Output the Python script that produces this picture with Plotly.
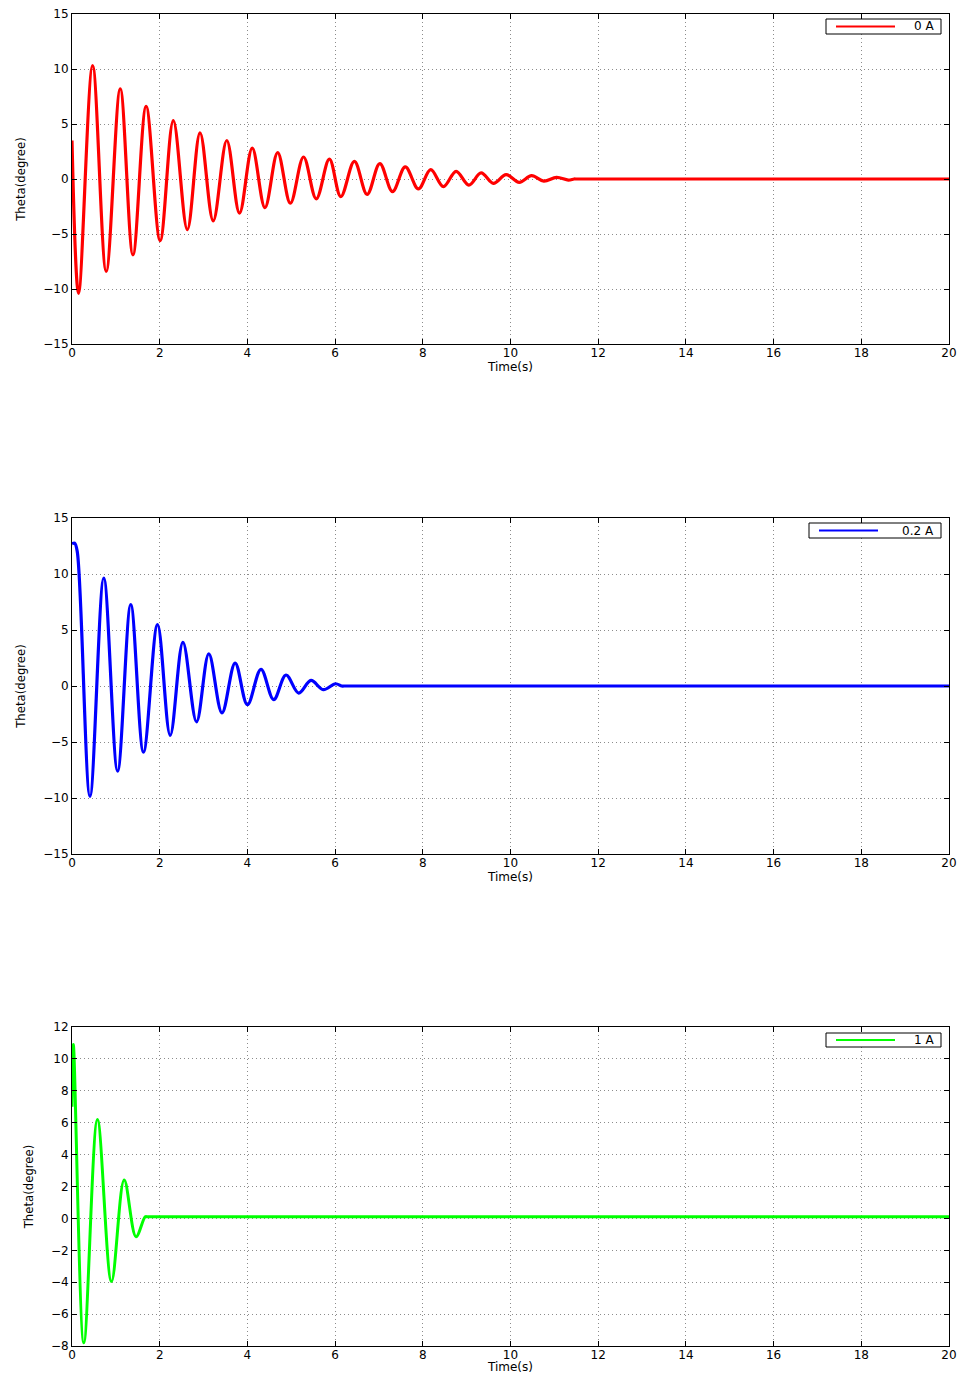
import plotly.graph_objects as go

# ---------------- data ----------------
t_0A = [0, 0.15, 0.47, 0.78, 1.10, 1.39, 1.69, 2.01, 2.31, 2.63, 2.92, 3.22, 3.53,
        3.82, 4.11, 4.40, 4.69, 4.98, 5.28, 5.57, 5.87, 6.13, 6.44, 6.73, 7.02,
        7.31, 7.60, 7.90, 8.18, 8.47, 8.76, 9.05, 9.33, 9.61, 9.90, 10.20, 10.48,
        10.76, 11.05, 11.32, 11.45, 11.5, 11.6, 20]
theta_0A = [3.5, -10.4, 10.3, -8.4, 8.2, -6.9, 6.6, -5.6, 5.3, -4.6, 4.2, -3.8, 3.5,
            -3.1, 2.8, -2.6, 2.4, -2.2, 2.0, -1.8, 1.8, -1.6, 1.6, -1.4, 1.4,
            -1.15, 1.1, -0.9, 0.85, -0.7, 0.7, -0.55, 0.55, -0.4, 0.4, -0.3, 0.3,
            -0.2, 0.15, -0.1, 0, 0, 0, 0]

t_02A = [0, 0.06, 0.12, 0.41, 0.725, 1.04, 1.34, 1.63, 1.95, 2.24, 2.53, 2.84, 3.12,
         3.42, 3.72, 4.00, 4.31, 4.60, 4.88, 5.17, 5.45, 5.73, 6.01, 6.15, 6.2, 6.3, 20]
theta_02A = [12.7, 12.75, 12.0, -9.85, 9.64, -7.6, 7.26, -5.9, 5.48, -4.4, 3.9, -3.2,
             2.86, -2.4, 2.05, -1.67, 1.49, -1.22, 0.98, -0.63, 0.5, -0.33, 0.2, 0,
             0, 0, 0]

t_1A = [0, 0.03, 0.27, 0.58, 0.90, 1.19, 1.46, 1.67, 1.72, 1.8, 20]
theta_1A = [7.0, 10.9, -7.8, 6.2, -3.96, 2.4, -1.15, 0.1, 0.1, 0.1, 0.1]

x_ticks = [0, 2, 4, 6, 8, 10, 12, 14, 16, 18, 20]
y_ticks_a = [-15, -10, -5, 0, 5, 10, 15]
y_ticks_c = [-8, -6, -4, -2, 0, 2, 4, 6, 8, 10, 12]

names = ["0 A", "0.2 A", "1 A"]
colors = ["#ff0000", "#0000ff", "#00ff00"]
widths = [3.2, 3.2, 3]

# ---------------- figure ----------------
W, H = 961, 1374
ML, MR, MT, MB = 72, 12, 14, 28
pw = W - ML - MR
ph = H - MT - MB

def px(pix):
    return (pix - ML) / pw

def py(pix):
    return 1 - (pix - MT) / ph

domains = [(py(344), py(14)), (py(854), py(518)), (py(1346), py(1027))]
# legend boxes (pixel geometry): left, top, bottom
legend_box = [(826, 19, 34), (809, 523, 538), (826, 1033, 1047)]

fig = go.Figure()
series = [(t_0A, theta_0A), (t_02A, theta_02A), (t_1A, theta_1A)]
for i, (tx, ty) in enumerate(series):
    sfx = "" if i == 0 else str(i + 1)
    fig.add_trace(go.Scatter(
        x=tx, y=ty, mode="lines", name=names[i], showlegend=False,
        line=dict(color=colors[i], width=widths[i], shape="spline", smoothing=1),
        xaxis="x" + sfx, yaxis="y" + sfx,
    ))

tick_font = dict(family="DejaVu Sans", size=12, color="black")
xtitle_font = dict(family="DejaVu Sans", size=12, color="black")
ytitle_font = dict(family="Liberation Sans Narrow, DejaVu Sans Condensed", size=13, color="black")

layout = dict(
    width=W, height=H,
    margin=dict(l=ML, r=MR, t=MT, b=MB),
    paper_bgcolor="white", plot_bgcolor="white",
    showlegend=False,
    template="none",
)

shapes = []
annotations = []
for i in range(3):
    sfx = "" if i == 0 else str(i + 1)
    yt = y_ticks_c if i == 2 else y_ticks_a
    common = dict(
        showline=True, linecolor="black", linewidth=1, mirror="ticks",
        ticks="inside", ticklen=5, tickcolor="black",
        showgrid=True, gridcolor="#8c8c8c", griddash="1px,3px", gridwidth=1,
        zeroline=False, tickfont=tick_font, automargin=False,
    )
    layout["xaxis" + sfx] = dict(
        common, domain=[0, 1], range=[0, 20], tickvals=x_ticks,
        anchor="y" + sfx, ticklabelstandoff=-2,
        title=dict(text="Time(s)", font=xtitle_font, standoff=0),
    )
    layout["yaxis" + sfx] = dict(
        common, domain=list(domains[i]), range=[yt[0], yt[-1]], tickvals=yt,
        anchor="x" + sfx,
        title=dict(text="Theta(degree)", font=ytitle_font, standoff=14),
    )
    # legend box drawn in the MATLAB style
    lx0, ly0, ly1 = legend_box[i]
    lx1 = 941
    ymid = (ly0 + ly1) / 2
    shapes.append(dict(type="rect", xref="paper", yref="paper",
                       x0=px(lx0), x1=px(lx1), y0=py(ly1), y1=py(ly0),
                       line=dict(color="black", width=1), fillcolor="white"))
    shapes.append(dict(type="line", xref="paper", yref="paper",
                       x0=px(lx0 + 10), x1=px(lx0 + 69), y0=py(ymid), y1=py(ymid),
                       line=dict(color=colors[i], width=2)))
    annotations.append(dict(xref="paper", yref="paper", x=px(lx1 - 5), y=py(ymid),
                            xanchor="right", yanchor="middle", showarrow=False,
                            text=names[i],
                            font=dict(family="DejaVu Sans", size=12, color="black")))

layout["shapes"] = shapes
layout["annotations"] = annotations
fig.update_layout(**layout)
fig.write_html("out.html")
